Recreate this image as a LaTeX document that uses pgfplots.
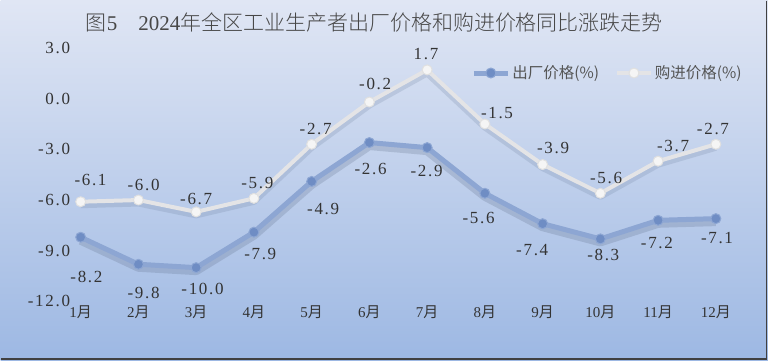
\documentclass[border=0pt]{standalone}
\usepackage{pgfplots}
\pgfplotsset{compat=1.18}
\usepackage{pgfplotstable}
\usepackage{fontspec}
\setmainfont{Liberation Serif}
\newfontfamily\cjk{Noto Sans CJK SC}
\newfontfamily\cjklight{Noto Sans CJK SC Light}
\newfontfamily\numfont[LetterSpace=10]{Liberation Serif}
\definecolor{bgtop}{HTML}{E0E6F4}
\definecolor{bgbot}{HTML}{9DB8E3}
\definecolor{blueline}{HTML}{8DA6D3}
\definecolor{bluemark}{HTML}{6F8DC4}
\definecolor{grayline}{HTML}{E4E4E6}
\definecolor{graymark}{HTML}{F5F5F5}
\definecolor{txt}{HTML}{333333}
\definecolor{legtxt}{HTML}{555555}

\pgfplotstableread{
m  cc     gj
1  -8.2  -6.1
2  -9.8  -6.0
3  -10.0 -6.7
4  -7.9  -5.9
5  -4.9  -2.7
6  -2.6  -0.2
7  -2.9   1.7
8  -5.6  -1.5
9  -7.4  -3.9
10 -8.3  -5.6
11 -7.2  -3.7
12 -7.1  -2.7
}\datatable

\pgfplotstableread{
lx    ly     v
1.10 -10.53 -8.2
2.09 -11.48 -9.8
3.11 -11.24 -10.0
4.11 -9.17  -7.9
5.20 -6.52  -4.9
6.02 -4.15  -2.6
6.99 -4.27  -2.9
7.89 -7.05  -5.6
8.82 -8.94  -7.4
10.05 -9.23 -8.3
10.98 -8.52 -7.2
12.02 -8.23 -7.1
}\cclabels

\pgfplotstableread{
lx    ly     v
1.17 -4.80 -6.1
2.09 -5.10 -6.0
3.00 -5.92 -6.7
4.06 -4.98 -5.9
5.07 -1.79 -2.7
6.10  0.87 -0.2
6.98  2.65  1.7
8.21 -0.84 -1.5
9.18 -2.91 -3.9
10.10 -4.68 -5.6
11.26 -2.79 -3.7
11.95 -1.79 -2.7
}\gjlabels

\begin{document}
\begin{tikzpicture}
\shade[top color=bgtop, bottom color=bgbot] (0pt,0pt) rectangle (768pt,-360pt);
\draw[color=black!75, line width=1.5pt] (766.5pt,0pt) -- (766.5pt,-358.5pt) -- (0pt,-358.5pt);
\node[font=\fontsize{21}{21}\selectfont, text=txt!90] at (374pt,-22pt)
  {{\cjklight 图}5\hspace{1em}2024{\cjklight 年全区工业生产者出厂价格和购进价格同比涨跌走势}};
\begin{axis}[
  at={(69.6pt,-301pt)}, anchor=south west,
  scale only axis, width=675.1pt, height=253.8pt,
  xmin=0.82, xmax=12.5, ymin=-12, ymax=3,
  clip=false,
  axis line style={draw=none},
  tick style={draw=none},
  ytick={-12,-9,-6,-3,0,3},
  xtick={1,...,12},
  xticklabels={1{\cjk 月},2{\cjk 月},3{\cjk 月},4{\cjk 月},5{\cjk 月},6{\cjk 月},7{\cjk 月},8{\cjk 月},9{\cjk 月},10{\cjk 月},11{\cjk 月},12{\cjk 月}},
  xticklabel style={font=\fontsize{15}{15}\selectfont, text=txt, yshift=-1pt},
  yticklabel style={font=\numfont\fontsize{17}{17}\selectfont, text=txt, inner sep=0pt, anchor=east,
     /pgf/number format/.cd, fixed, fixed zerofill, precision=1, assume math mode=true},
  /pgf/number format/assume math mode=true,
  legend style={at={(axis description cs:0.59,0.901)}, anchor=west, draw=none, fill=none,
     font=\cjk\fontsize{15.5}{15.5}\selectfont, text=legtxt, legend columns=2,
     /tikz/every even column/.append style={column sep=14pt}},
  legend image code/.code={\draw[mark repeat=2, mark phase=2, #1] plot coordinates {(0pt,0pt) (17pt,0pt) (34pt,0pt)};},
]
% shadows
\addplot[forget plot, color=black!40!blueline, opacity=0.22, line width=9pt, line join=round, yshift=-3pt] table[x=m, y=cc] {\datatable};
\addplot[forget plot, color=black!30!bgbot, opacity=0.22, line width=7pt, line join=round, yshift=-3pt] table[x=m, y=gj] {\datatable};
% lines
\addplot[color=blueline, line width=5pt, line join=round, mark=*, mark size=5pt,
  mark options={fill=bluemark, draw=blueline, line width=1pt}] table[x=m, y=cc] {\datatable};
\addlegendentry{出厂价格(\%)}
\addplot[color=grayline, line width=4pt, line join=round, mark=*, mark size=5pt,
  mark options={fill=graymark, draw=black!12, line width=1pt}] table[x=m, y=gj] {\datatable};
\addlegendentry{购进价格(\%)}
% labels
\addplot[forget plot, draw=none, mark=none, nodes near coords, point meta=explicit,
  nodes near coords={\pgfmathprintnumber[fixed, fixed zerofill, precision=1, assume math mode=true]{\pgfplotspointmeta}},
  every node near coord/.append style={anchor=center, inner sep=0pt, font=\numfont\fontsize{17}{17}\selectfont, text=txt}]
  table[x=lx, y=ly, meta=v] {\cclabels};
\addplot[forget plot, draw=none, mark=none, nodes near coords, point meta=explicit,
  nodes near coords={\pgfmathprintnumber[fixed, fixed zerofill, precision=1, assume math mode=true]{\pgfplotspointmeta}},
  every node near coord/.append style={anchor=center, inner sep=0pt, font=\numfont\fontsize{17}{17}\selectfont, text=txt}]
  table[x=lx, y=ly, meta=v] {\gjlabels};
\end{axis}
\end{tikzpicture}
\end{document}
